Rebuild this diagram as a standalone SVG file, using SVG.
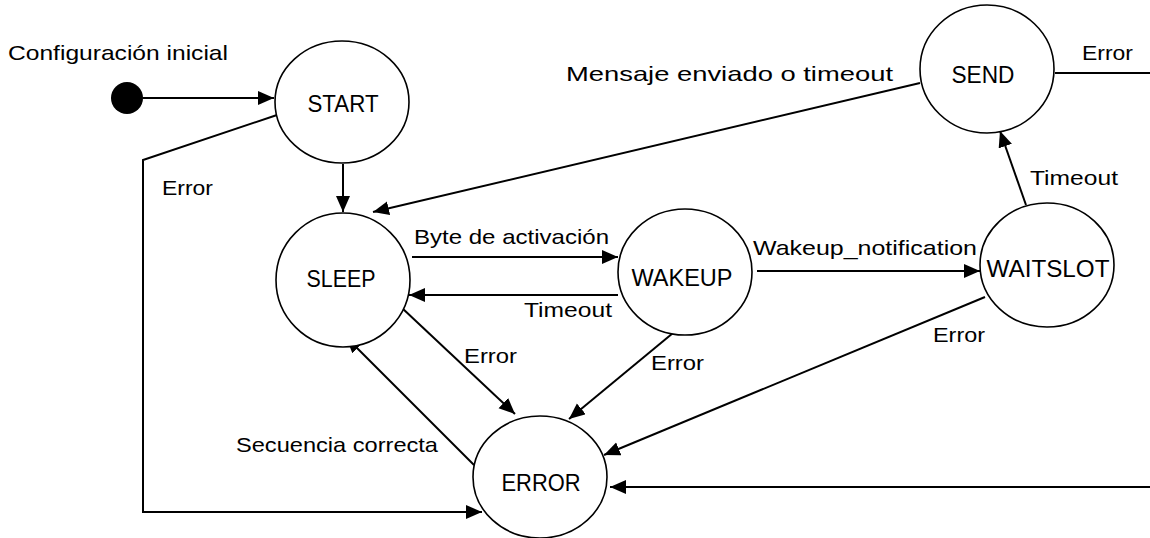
<svg xmlns="http://www.w3.org/2000/svg" width="1150" height="538" viewBox="0 0 1150 538">
  <style>
    .state { fill: #ffffff; stroke: #000000; stroke-width: 1.6; }
    .edge { fill: none; stroke: #000000; stroke-width: 2; }
    .name { font-family: "Liberation Sans", Arial, sans-serif; font-size: 24px; fill: #000000; text-anchor: middle; }
    .lbl { font-family: "Liberation Sans", Arial, sans-serif; font-size: 21px; fill: #000000; }
  </style>
  <defs>
    <marker id="arrow" markerUnits="userSpaceOnUse" markerWidth="17" markerHeight="15" refX="16" refY="7" orient="auto">
      <path d="M0,0 L16,7 L0,14 Z" fill="#000000"/>
    </marker>
  </defs>

  <!-- transitions -->
  <g id="connectors">
    <line class="edge" x1="143" y1="98" x2="274" y2="98" marker-end="url(#arrow)"/>
    <line class="edge" x1="343" y1="164" x2="343" y2="212" marker-end="url(#arrow)"/>
    <polyline class="edge" points="277,115 143,160 143,512 482,512" marker-end="url(#arrow)"/>
    <line class="edge" x1="920" y1="83" x2="373" y2="212" marker-end="url(#arrow)"/>
    <line class="edge" x1="412" y1="257" x2="618" y2="257" marker-end="url(#arrow)"/>
    <line class="edge" x1="618" y1="295" x2="409" y2="295" marker-end="url(#arrow)"/>
    <line class="edge" x1="757" y1="271" x2="980" y2="271" marker-end="url(#arrow)"/>
    <line class="edge" x1="1026" y1="205" x2="1000" y2="131" marker-end="url(#arrow)"/>
    <line class="edge" x1="1055" y1="73" x2="1150" y2="73"/>
    <line class="edge" x1="1150" y1="487" x2="610" y2="487" marker-end="url(#arrow)"/>
    <line class="edge" x1="402" y1="308" x2="515" y2="414" marker-end="url(#arrow)"/>
    <line class="edge" x1="474" y1="465" x2="346" y2="337" marker-end="url(#arrow)"/>
    <line class="edge" x1="673" y1="333" x2="569" y2="419" marker-end="url(#arrow)"/>
    <line class="edge" x1="985" y1="297" x2="604" y2="455" marker-end="url(#arrow)"/>
  </g>

  <!-- transition labels -->
  <g id="labels">
    <text class="lbl" x="8" y="60" textLength="220" lengthAdjust="spacingAndGlyphs">Configuración inicial</text>
    <text class="lbl" x="162" y="195" textLength="51" lengthAdjust="spacingAndGlyphs">Error</text>
    <text class="lbl" x="566" y="81" textLength="327" lengthAdjust="spacingAndGlyphs">Mensaje enviado o timeout</text>
    <text class="lbl" x="1082" y="60" textLength="51" lengthAdjust="spacingAndGlyphs">Error</text>
    <text class="lbl" x="1030" y="185" textLength="88" lengthAdjust="spacingAndGlyphs">Timeout</text>
    <text class="lbl" x="414" y="244" textLength="195" lengthAdjust="spacingAndGlyphs">Byte de activación</text>
    <text class="lbl" x="524" y="317" textLength="88" lengthAdjust="spacingAndGlyphs">Timeout</text>
    <text class="lbl" x="753" y="255" textLength="224" lengthAdjust="spacingAndGlyphs">Wakeup_notification</text>
    <text class="lbl" x="933" y="342" textLength="52" lengthAdjust="spacingAndGlyphs">Error</text>
    <text class="lbl" x="464" y="363" textLength="53" lengthAdjust="spacingAndGlyphs">Error</text>
    <text class="lbl" x="651" y="370" textLength="53" lengthAdjust="spacingAndGlyphs">Error</text>
    <text class="lbl" x="236" y="452" textLength="202" lengthAdjust="spacingAndGlyphs">Secuencia correcta</text>
  </g>

  <!-- states -->
  <g id="init">
    <circle cx="127" cy="98" r="16" fill="#000000"/>
  </g>
  <g id="start">
    <ellipse class="state" cx="342" cy="102" rx="67" ry="61"/>
    <text class="name" x="343" y="112" textLength="71" lengthAdjust="spacingAndGlyphs">START</text>
  </g>
  <g id="sleep">
    <ellipse class="state" cx="343" cy="280" rx="67" ry="67"/>
    <text class="name" x="341" y="287" textLength="69" lengthAdjust="spacingAndGlyphs">SLEEP</text>
  </g>
  <g id="wakeup">
    <ellipse class="state" cx="685" cy="272" rx="67" ry="63"/>
    <text class="name" x="682" y="286" textLength="101" lengthAdjust="spacingAndGlyphs">WAKEUP</text>
  </g>
  <g id="waitslot">
    <ellipse class="state" cx="1047" cy="265" rx="67" ry="62"/>
    <text class="name" x="1048" y="277" textLength="123" lengthAdjust="spacingAndGlyphs">WAITSLOT</text>
  </g>
  <g id="send">
    <ellipse class="state" cx="987" cy="69" rx="67" ry="64"/>
    <text class="name" x="983" y="83" textLength="63" lengthAdjust="spacingAndGlyphs">SEND</text>
  </g>
  <g id="error">
    <ellipse class="state" cx="540" cy="477" rx="67" ry="61"/>
    <text class="name" x="541" y="491" textLength="79" lengthAdjust="spacingAndGlyphs">ERROR</text>
  </g>
</svg>
